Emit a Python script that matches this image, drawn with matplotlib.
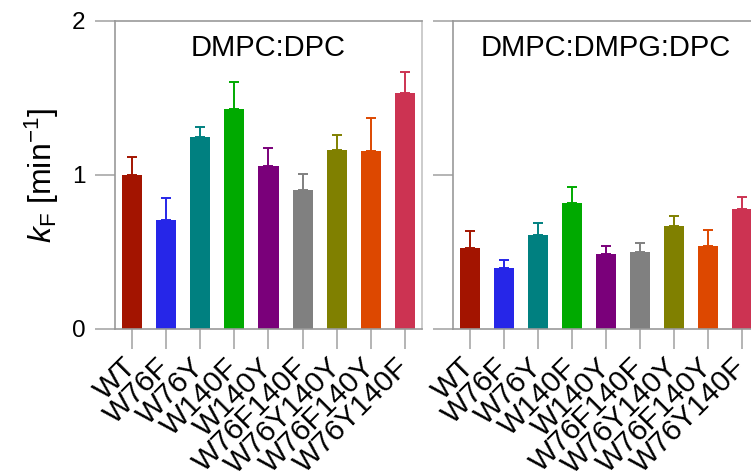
import matplotlib.pyplot as plt
import numpy as np

plt.rcParams["font.family"] = ["Liberation Sans", "DejaVu Sans"]
plt.rcParams["mathtext.fontset"] = "custom"
plt.rcParams["mathtext.rm"] = "Liberation Sans"
plt.rcParams["mathtext.it"] = "Liberation Sans:italic"

mutants = ["WT", "W76F", "W76Y", "W140F", "W140Y",
           "W76F140F", "W76Y140Y", "W76F140Y", "W76Y140F"]
colors = ["#a31400", "#2626e8", "#008080", "#00aa00", "#7a007a",
          "#808080", "#808000", "#dd4800", "#cc3352"]

# rate constants and upper error (min^-1)
kf_dpc = [1.00, 0.71, 1.245, 1.43, 1.058, 0.903, 1.162, 1.156, 1.532]
err_dpc = [0.12, 0.14, 0.065, 0.176, 0.119, 0.106, 0.10, 0.216, 0.139]
kf_dmpg = [0.526, 0.396, 0.610, 0.818, 0.487, 0.502, 0.671, 0.541, 0.779]
err_dmpg = [0.112, 0.05, 0.08, 0.102, 0.05, 0.058, 0.063, 0.10, 0.08]

panels = [("DMPC:DPC", kf_dpc, err_dpc), ("DMPC:DMPG:DPC", kf_dmpg, err_dmpg)]

fig = plt.figure(figsize=(7.51, 4.75), dpi=100)
ax1 = fig.add_axes([0.1531, 0.3074, 0.4088, 0.6484])
ax2 = fig.add_axes([0.6032, 0.3074, 0.4075, 0.6484])

x = np.arange(len(mutants))
for ax, (title, vals, errs) in zip([ax1, ax2], panels):
    ax.bar(x, vals, width=0.59, color=colors, zorder=2)
    for xi, v, e, c in zip(x, vals, errs, colors):
        ax.errorbar(xi, v, yerr=[[0], [e]], fmt="none", ecolor=c,
                    elinewidth=1.4, capsize=3.3, capthick=1.4, zorder=1)
    ax.set_xlim(-0.5, len(mutants) - 0.5)
    ax.set_ylim(0, 2)
    ax.set_yticks([0, 1, 2])
    ax.set_xticks(x)
    ax.tick_params(axis="both", length=14.4, width=1.2, color="#a8a8a8",
                   direction="out")
    ax.tick_params(axis="y", labelsize=17.5, pad=7)
    ax.tick_params(axis="x", labelsize=21.5, pad=10)
    ax.set_xticklabels(mutants, rotation=45, ha="right", va="center",
                       rotation_mode="anchor")
    for s in ax.spines.values():
        s.set_color("#999999")
        s.set_linewidth(1.2)
    ax.spines["right"].set_color("#c4c4c4")
    ax.text(0.5, 0.885, title, transform=ax.transAxes, ha="center",
            va="baseline", fontsize=21)

ax2.set_yticklabels([])
ax1.set_ylabel(r"$\mathit{k}_\mathrm{F}$ [min$^{-1}$]", fontsize=23, labelpad=8)

fig.savefig("out.png", dpi=100)
